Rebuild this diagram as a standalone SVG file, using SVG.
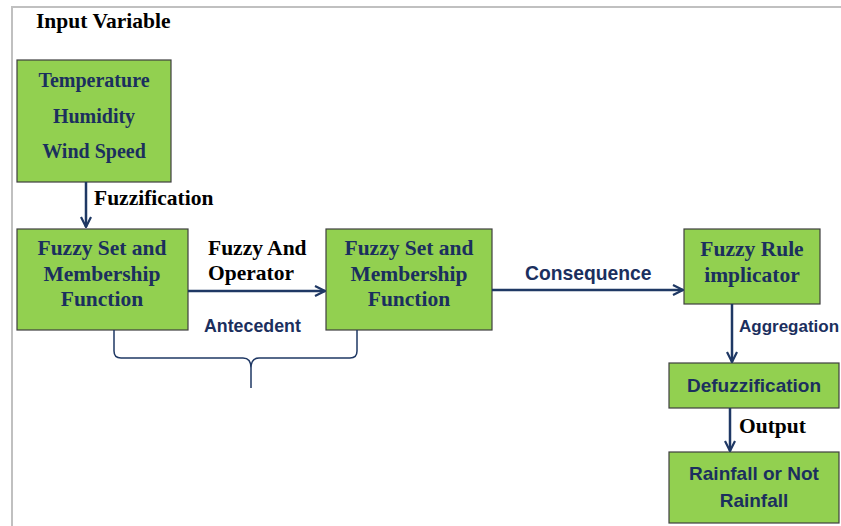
<svg xmlns="http://www.w3.org/2000/svg" width="841" height="526" viewBox="0 0 841 526">
<defs>
<marker id="arr" viewBox="0 0 12 12" refX="11" refY="6" markerWidth="12" markerHeight="12" markerUnits="userSpaceOnUse" orient="auto">
<path d="M1,1 L11,6 L1,11" fill="none" stroke="#1f3864" stroke-width="2.2"/>
</marker>
<style>
.box{fill:#92d050;stroke:#3f3f3f;stroke-width:1.2}
.sr{font-family:"Liberation Serif","Times New Roman",serif;font-weight:bold}
.ss{font-family:"Liberation Sans",Arial,sans-serif;font-weight:bold}
.nv{fill:#1b2f5e}
.bk{fill:#000}
.c{text-anchor:middle}
.ln{stroke:#1f3864;stroke-width:2.5;fill:none}
.frame{stroke:#c0c0c0;stroke-width:2;fill:none}
</style>
</defs>
<rect width="841" height="526" fill="#fff"/>
<path class="frame" d="M12,526 L12,7 L841,7"/>
<text class="sr bk" x="36" y="28" font-size="21.5">Input Variable</text>

<g id="input">
<rect class="box" x="17" y="60" width="154" height="122"/>
<text class="sr nv c" font-size="20"><tspan x="94" y="87">Temperature</tspan><tspan x="94" y="123">Humidity</tspan><tspan x="94" y="158">Wind Speed</tspan></text>
</g>

<g id="fuzzyset1">
<rect class="box" x="17" y="229" width="171" height="101"/>
<text class="sr nv c" font-size="21.5"><tspan x="102" y="255">Fuzzy Set and</tspan><tspan x="102" y="281">Membership</tspan><tspan x="102" y="306">Function</tspan></text>
</g>

<g id="fuzzyset2">
<rect class="box" x="326" y="229" width="166" height="101"/>
<text class="sr nv c" font-size="21.5"><tspan x="409" y="255">Fuzzy Set and</tspan><tspan x="409" y="281">Membership</tspan><tspan x="409" y="306">Function</tspan></text>
</g>

<g id="rule">
<rect class="box" x="684" y="229" width="136" height="75"/>
<text class="sr nv c" font-size="21.5"><tspan x="752" y="256">Fuzzy Rule</tspan><tspan x="752" y="282">implicator</tspan></text>
</g>

<g id="defuzz">
<rect class="box" x="669" y="363" width="170" height="45"/>
<text class="ss nv c" x="754" y="392" font-size="19">Defuzzification</text>
</g>

<g id="result">
<rect class="box" x="669" y="452" width="170" height="71"/>
<text class="ss nv c" font-size="19"><tspan x="754" y="480">Rainfall or Not</tspan><tspan x="754" y="507">Rainfall</tspan></text>
</g>

<g id="connectors">
<line class="ln" x1="86" y1="182" x2="86" y2="227" marker-end="url(#arr)"/>
<line class="ln" x1="188" y1="291" x2="325" y2="291" marker-end="url(#arr)"/>
<line class="ln" x1="492" y1="290" x2="683" y2="290" marker-end="url(#arr)"/>
<line class="ln" x1="732" y1="304" x2="732" y2="362" marker-end="url(#arr)"/>
<line class="ln" x1="730" y1="408" x2="730" y2="451" marker-end="url(#arr)"/>
<path d="M114,330 L114,351 Q114,358 121,358 L243,358 Q251,358 251,368 L251,388 M251,368 Q251,358 259,358 L350,358 Q357,358 357,351 L357,330" fill="none" stroke="#1f3864" stroke-width="1.5"/>
</g>

<g id="labels">
<text class="sr bk" x="94" y="205" font-size="21.5">Fuzzification</text>
<text class="sr bk" font-size="21.5"><tspan x="208" y="255">Fuzzy And</tspan><tspan x="208" y="280">Operator</tspan></text>
<text class="ss nv" x="204" y="332" font-size="17.8">Antecedent</text>
<text class="ss nv" x="525" y="280" font-size="19.3">Consequence</text>
<text class="ss nv" x="739" y="332" font-size="17">Aggregation</text>
<text class="sr bk" x="739" y="433" font-size="21.5">Output</text>
</g>
</svg>
